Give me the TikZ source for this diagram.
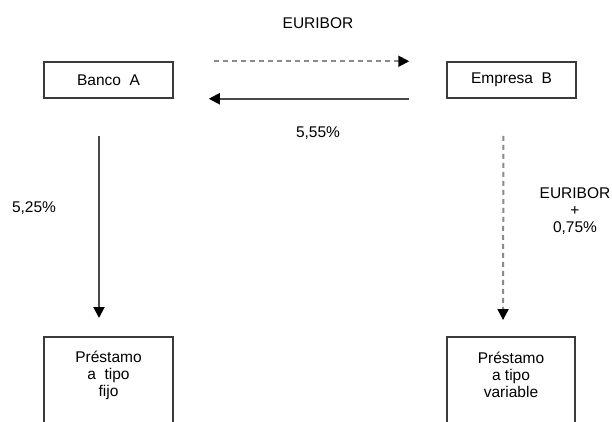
\documentclass[tikz,border=0pt]{standalone}
\usepackage{fontspec}
\setmainfont{Liberation Sans}
\usetikzlibrary{arrows.meta}
\definecolor{edge}{HTML}{3A3A3A}
\definecolor{dashgray}{HTML}{8A8A8A}
\definecolor{solidgray}{HTML}{4A4A4A}
\begin{document}
\begin{tikzpicture}[x=1pt,y=-1pt,
  every node/.style={font=\fontsize{15.5}{17}\selectfont, inner sep=0pt},
  box/.style={draw=edge, line width=1.5pt, fill=white},
  tip/.style={-{Triangle[length=11pt,width=11pt,color=black]}},
  dashedline/.style={tip, draw=dashgray, line width=2pt, dash pattern=on 5pt off 4pt},
  solidline/.style={tip, draw=solidgray, line width=2pt},
  lbl/.style={align=center}]
\useasboundingbox (0,0) rectangle (612,421);
\fill[white] (0,0) rectangle (612,421);
\begin{scope}
\clip (0,0) rectangle (612,421);
\node[box, minimum width=129pt, minimum height=36pt] (ba) at (108.5,80) {Banco\ \ A};
\node[box, minimum width=129pt, minimum height=36pt] (eb) at (511.5,80) {Empresa\ \ B};
\node[box, minimum width=129pt, minimum height=110pt, anchor=north] (pf) at (108.5,336) {};
\node[lbl] (pft) at (108.5,375) {Préstamo\\a\ \ tipo\\fijo};
\node[box, minimum width=128pt, minimum height=110pt, anchor=north] (pv) at (511,336) {};
\node[lbl] (pvt) at (511,375) {Préstamo\\a tipo\\variable};

\draw[dashedline, shorten <=40pt, shorten >=37pt] (ba.north east) -- (eb.north west);
\draw[solidline, shorten <=37pt, shorten >=35pt] (eb.south west) -- (ba.south east);
\draw[solidline, shorten <=37pt, shorten >=18pt] ([xshift=-9.5pt]ba.south) -- ([xshift=-9.5pt]pf.north);
\draw[dashedline, shorten <=37pt, shorten >=16pt] ([xshift=-8pt]eb.south) -- ([xshift=-8pt]pv.north);

\node[lbl] (l1) at (318,23) {EURIBOR};
\node[lbl] (l2) at (318,133) {5,55\%};
\node[lbl] (l3) at (34,208) {5,25\%};
\node[lbl] (l4) at (575,211) {EURIBOR\\+\\0,75\%};
\end{scope}
\end{tikzpicture}
\end{document}
